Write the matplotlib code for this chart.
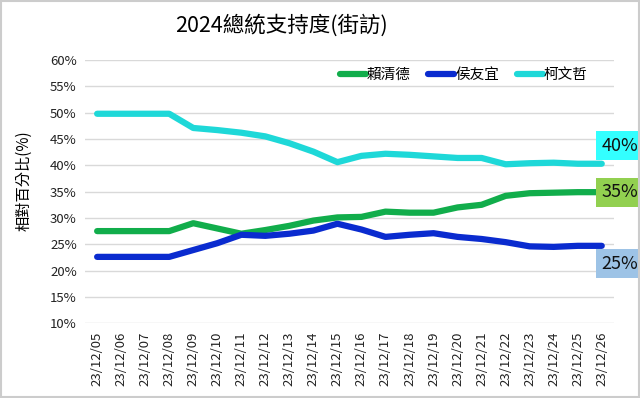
import matplotlib
matplotlib.use("Agg")
import matplotlib.pyplot as plt

plt.rcParams['font.family'] = ['Noto Sans CJK TC', 'DejaVu Sans']

# 日期
dates = ["23/12/05", "23/12/06", "23/12/07", "23/12/08", "23/12/09", "23/12/10",
         "23/12/11", "23/12/12", "23/12/13", "23/12/14", "23/12/15", "23/12/16",
         "23/12/17", "23/12/18", "23/12/19", "23/12/20", "23/12/21", "23/12/22",
         "23/12/23", "23/12/24", "23/12/25", "23/12/26"]

# 支持度 (%)
lai = [27.5, 27.5, 27.5, 27.5, 29.0, 28.0, 27.0, 27.7, 28.5, 29.5, 30.1, 30.2,
       31.2, 31.0, 31.0, 32.0, 32.5, 34.2, 34.7, 34.8, 34.9, 34.9]
hou = [22.6, 22.6, 22.6, 22.6, 23.9, 25.2, 26.8, 26.6, 27.0, 27.6, 28.9, 27.8,
       26.4, 26.8, 27.1, 26.4, 26.0, 25.4, 24.6, 24.5, 24.7, 24.7]
ko = [49.8, 49.8, 49.8, 49.8, 47.1, 46.7, 46.2, 45.5, 44.2, 42.6, 40.6, 41.8,
      42.2, 42.0, 41.7, 41.4, 41.4, 40.2, 40.4, 40.5, 40.3, 40.3]

names = ["賴清德", "侯友宜", "柯文哲"]
colors = ["#11AD4B", "#0A2BCF", "#1ED8D8"]
end_labels = ["35%", "25%", "40%"]
box_colors = ["#92D050", "#9DC3E6", "#33FFFF"]
offsets = [(13, 0), (13, -13), (13, 13)]

fig = plt.figure(figsize=(6.4, 3.98), dpi=100)
ax = fig.add_axes([0.133, 0.188, 0.826, 0.661])

x = list(range(len(dates)))
for vals, name, c in zip([lai, hou, ko], names, colors):
    ax.plot(x, vals, color=c, linewidth=4.5, label=name, solid_capstyle='round')

for vals, lab, bc, off in zip([lai, hou, ko], end_labels, box_colors, offsets):
    ax.annotate(lab, xy=(x[-1], vals[-1]), xytext=off, textcoords='offset points',
                ha='center', va='center', fontsize=13, color='#111111',
                bbox=dict(boxstyle='square,pad=0.3', fc=bc, ec='none'),
                annotation_clip=False)

ax.set_xlim(-0.5, len(dates) - 0.5)
ax.set_ylim(10, 60)
ax.set_yticks(range(10, 61, 5))
ax.set_yticklabels([f"{v}%" for v in range(10, 61, 5)], fontsize=9.5, color='#222222')
ax.set_xticks(x)
ax.set_xticklabels(dates, rotation=90, fontsize=9.5, color='#222222')
ax.tick_params(length=0, pad=6)
ax.grid(axis='y', color='#D9D9D9', linewidth=1)
ax.set_axisbelow(True)
for s in ax.spines.values():
    s.set_visible(False)

ax.set_ylabel("相對百分比(%)", fontsize=11)
ax.yaxis.set_label_coords(-0.1, 0.54)

fig.text(0.44, 0.935, "2024總統支持度(街訪)", fontsize=15.5, fontweight='medium',
         ha='center', va='center')

leg = ax.legend(loc='upper right', bbox_to_anchor=(0.975, 1.02), ncol=3, frameon=False,
                fontsize=10.5, handlelength=1.8, handletextpad=0.05, columnspacing=1.2)

# 外框
fig.patches.append(plt.Rectangle((0.002, 0.002), 0.996, 0.996, transform=fig.transFigure,
                                 fill=False, ec='#CCCCCC', lw=1.5))

fig.savefig("out.png", dpi=100)
